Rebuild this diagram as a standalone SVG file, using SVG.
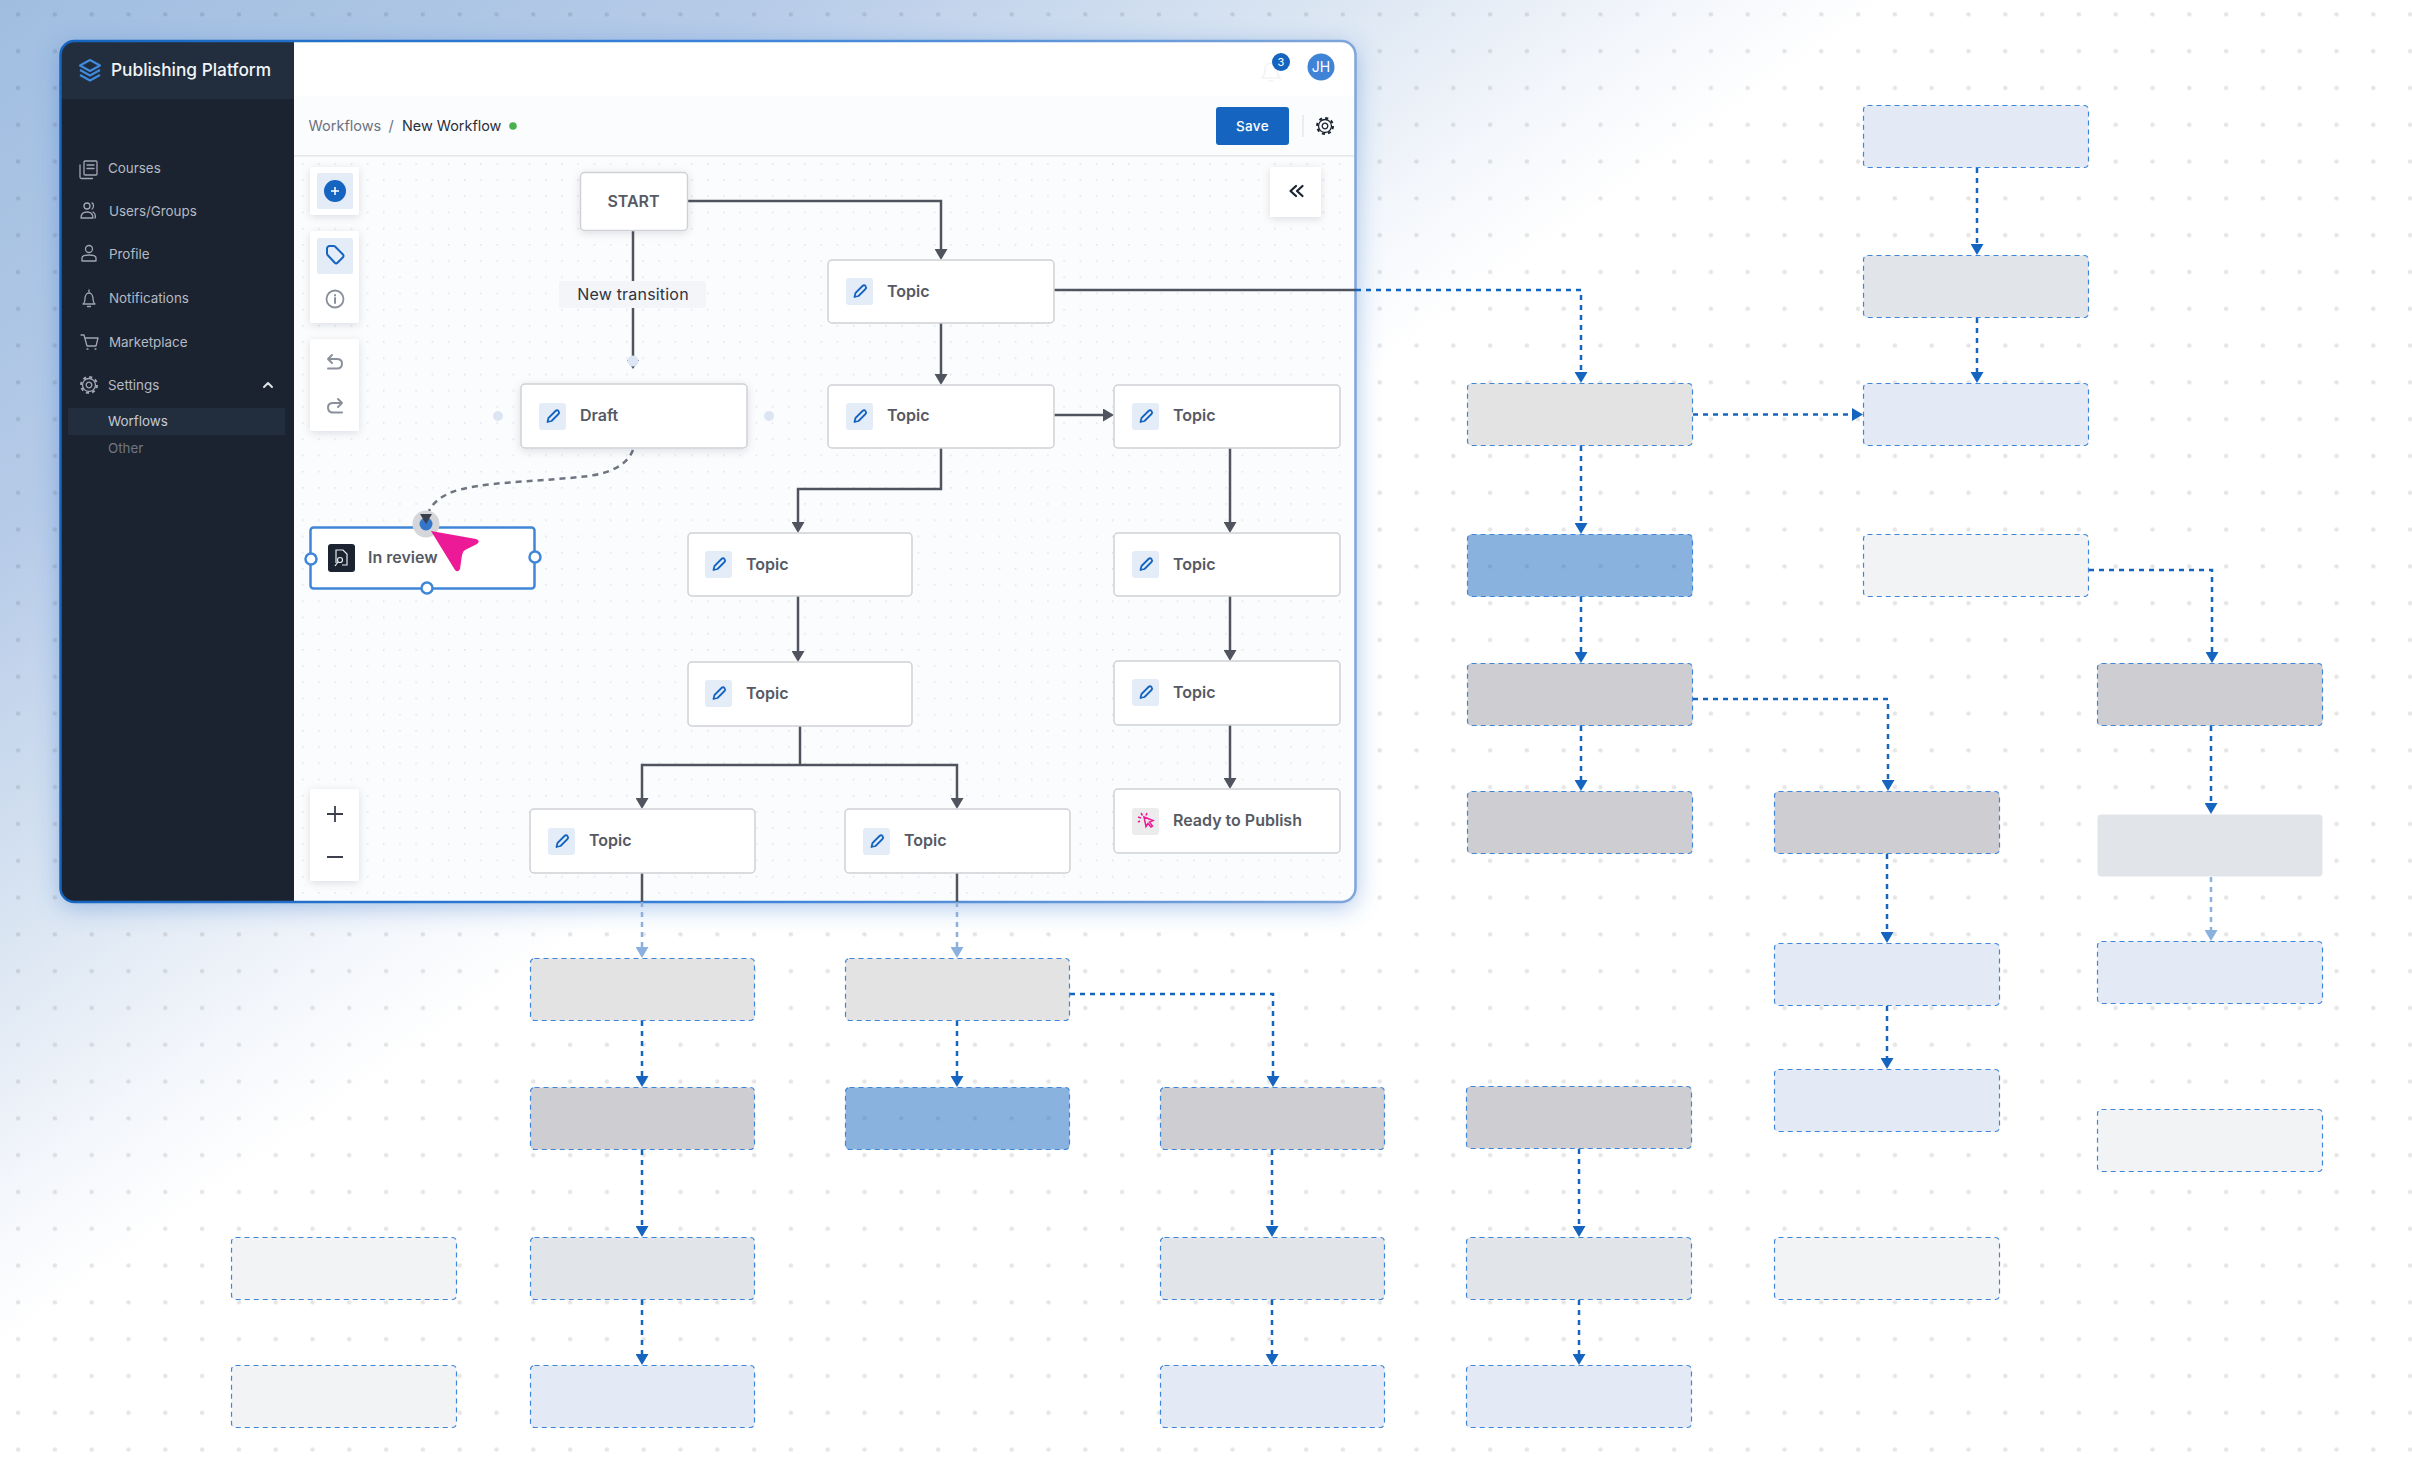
<svg xmlns="http://www.w3.org/2000/svg" xmlns:xlink="http://www.w3.org/1999/xlink" width="2412" height="1468" viewBox="0 0 2412 1468">
<style>
text{font-family:Inter,"Noto Sans","Liberation Sans",sans-serif}
.side{font-size:13.4px;fill:#b4bac4}
.t{font-size:16px;font-weight:600;fill:#565a64}
.card{fill:#fff;stroke:#cfd1d5;stroke-width:1.5}
.tool{fill:#fff;filter:url(#soft)}
.ic{fill:none;stroke:#a0a7b2;stroke-width:1.3;stroke-linecap:round;stroke-linejoin:round}
.tic{fill:none;stroke:#8a909b;stroke-width:2;stroke-linecap:round;stroke-linejoin:round}
.solid{fill:none;stroke:#50545e;stroke-width:2.5;marker-end:url(#ad)}
.plain{fill:none;stroke:#50545e;stroke-width:2.5}
.dash{fill:none;stroke:#1565c0;stroke-width:2.5;stroke-dasharray:5 5;marker-end:url(#ab)}
.pale{fill:none;stroke:#8ab0dd;stroke-width:2.5;stroke-dasharray:5 5;marker-end:url(#ap)}
.g{stroke:#3f86d8;stroke-width:1.2;stroke-dasharray:5 4}
.lb{fill:#e3eaf6}.gr{fill:#e1e4e8}.ll{fill:#e3e3e3}.bl{fill:#1565c0;fill-opacity:.5}.dk{fill:#cdcdd2}.wh{fill:#f1f3f5}
.h{fill:#fff;stroke:#3f86d8;stroke-width:2.5}
</style>
<defs>
<linearGradient id="bg" gradientUnits="userSpaceOnUse" x1="0" y1="0" x2="638" y2="897">
<stop offset="0" stop-color="#a0bde0"/><stop offset=".4" stop-color="#b6cbe8"/><stop offset=".72" stop-color="#dde7f3"/><stop offset=".88" stop-color="#f3f6fb"/><stop offset="1" stop-color="#fff"/>
</linearGradient>
<linearGradient id="edge" gradientUnits="userSpaceOnUse" x1="60" y1="0" x2="1356" y2="0">
<stop offset="0" stop-color="#1565c0"/><stop offset=".5" stop-color="#3a82d8"/><stop offset="1" stop-color="#7fa6da"/>
</linearGradient>
<pattern id="bgdots" patternUnits="userSpaceOnUse" width="36.8" height="36.8"><circle cx="18.1" cy="14.3" r="2.2" fill="#000" fill-opacity=".1"/></pattern>
<pattern id="cdots" patternUnits="userSpaceOnUse" x="302" y="163" width="16.2" height="16.2"><circle cx="0.8" cy="0.8" r=".8" fill="#dadde3"/></pattern>
<filter id="win" x="-10%" y="-10%" width="120%" height="120%"><feDropShadow dx="0" dy="5" stdDeviation="12" flood-color="#3f7fd0" flood-opacity=".45"/></filter>
<filter id="soft" x="-30%" y="-30%" width="160%" height="160%"><feDropShadow dx="0" dy="2" stdDeviation="4" flood-color="#1b2330" flood-opacity=".12"/></filter>
<clipPath id="wc"><rect x="60" y="41" width="1296" height="861" rx="14"/></clipPath>
<marker id="ad" markerUnits="userSpaceOnUse" markerWidth="12" markerHeight="13" viewBox="0 0 11 13" refX="5" refY="6.5" orient="auto"><path d="M0 0L11 6.500L0 13z" fill="#50545e"/></marker>
<marker id="ab" markerUnits="userSpaceOnUse" markerWidth="12" markerHeight="13" viewBox="0 0 11 13" refX="5" refY="6.5" orient="auto"><path d="M0 0L11 6.500L0 13z" fill="#1565c0"/></marker>
<marker id="ap" markerUnits="userSpaceOnUse" markerWidth="12" markerHeight="13" viewBox="0 0 11 13" refX="5" refY="6.5" orient="auto"><path d="M0 0L11 6.500L0 13z" fill="#8ab0dd"/></marker>
<g id="pen"><rect width="27" height="27" rx="3" fill="#e4ecf7"/><path d="M8.500 19l1-4 7-7c1-1 2.200-1 3 0s.8 2 0 3l-7 7z" fill="none" stroke="#1565c0" stroke-width="1.800" stroke-linejoin="round"/></g>
<g id="gear"><circle r="6.500" fill="none" stroke-width="1.300"/><circle r="8" fill="none" stroke-width="2" stroke-dasharray="3.100 3.180"/><circle r="2.800" fill="none" stroke-width="1.300"/></g>
</defs>
<rect id="background" width="2412" height="1468" fill="url(#bg)"/>
<rect width="2412" height="1468" fill="url(#bgdots)"/>

<g id="window">
<rect x="60" y="41" width="1296" height="861" rx="14" fill="#fff" filter="url(#win)"/>
<g clip-path="url(#wc)">
<rect x="294" y="96" width="1062" height="60" fill="#fbfcfe"/>
<rect x="294" y="156" width="1062" height="746" fill="#fbfcfe"/>
<rect x="294" y="157" width="1062" height="745" fill="url(#cdots)"/>
<rect x="294" y="155" width="1062" height="1.500" fill="#e4e6ea"/>
<rect x="60" y="41" width="234" height="861" fill="#1b2330"/>
<rect x="60" y="41" width="234" height="58" fill="#222e3e"/>
<rect x="68" y="408" width="217" height="27" fill="#222e3e"/>
</g>
<rect x="60.500" y="41" width="1295" height="861" rx="14" fill="none" stroke="url(#edge)" stroke-width="2.500"/>
</g>

<g id="sidebar">
<g fill="none" stroke="#3f8be0" stroke-width="2" stroke-linejoin="round"><path d="M90 60l10 5.500-10 5.500-10-5.500z"/><path d="M80 70l10 5.500 10-5.500"/><path d="M80 75l10 5.500 10-5.500"/></g>
<text x="111" y="76" font-size="17.3" font-weight="500" fill="#f2f4f7">Publishing Platform</text>
<g class="ic"><rect x="84" y="161" width="13" height="14" rx="1"/><path d="M87 165h7M87 168.500h7M80 165v12c0 1 .5 1.500 1.500 1.500h11"/></g>
<text x="108" y="173" class="side">Courses</text>
<g class="ic"><circle cx="87" cy="206" r="3"/><path d="M81 218c0-4 2.500-6 6-6s6 2 6 6zM92 203c2 .5 2 5 0 6M95 218c1-2 0-5-2-6"/></g>
<text x="109" y="216" class="side">Users/Groups</text>
<g class="ic"><circle cx="89" cy="249" r="3.500"/><path d="M82 261v-3c0-2 2-3 7-3s7 1 7 3v3z"/></g>
<text x="109" y="259" class="side">Profile</text>
<g class="ic"><path d="M83 304h12c-1.500-1-2-2-2-5 0-3-1.500-6-4-6s-4 3-4 6c0 3-.5 4-2 5zM87.500 306.500h3M89 290v2"/></g>
<text x="109" y="303" class="side">Notifications</text>
<g class="ic"><path d="M81 335h3l3 11h9l2-8H85M87 349h1M95 349h1"/></g>
<text x="109" y="347" class="side">Marketplace</text>
<use xlink:href="#gear" href="#gear" x="89" y="385" stroke="#a0a7b2"/>
<text x="108" y="390" class="side">Settings</text>
<path d="M264 387l4-4 4 4" fill="none" stroke="#dfe3e8" stroke-width="2" stroke-linecap="round" stroke-linejoin="round"/>
<text x="108" y="426" font-size="13.400" fill="#c4cad3">Worflows</text>
<text x="108" y="453" font-size="13.400" fill="#6f7784">Other</text>
</g>

<g id="header">
<path d="M1262 78h18c-2-2-3-4-3-8 0-4-2-7-6-7s-6 3-6 7c0 4-1 6-3 8zM1268 81h6" fill="none" stroke="#f1f3f5" stroke-width="1.500"/>
<circle cx="1281" cy="62" r="9" fill="#1565c0"/>
<text x="1281" y="66" font-size="11" fill="#fff" text-anchor="middle">3</text>
<circle cx="1321" cy="67" r="13.500" fill="#3f83d6"/>
<text x="1321" y="72" font-size="14" fill="#fff" text-anchor="middle">JH</text>
<text x="308.500" y="131" font-size="14.500" fill="#6b7280">Workflows</text>
<text x="391" y="131" font-size="14.500" fill="#6b7280" text-anchor="middle">/</text>
<text x="402" y="131" font-size="14.400" fill="#2b303b">New Workflow</text>
<circle cx="513" cy="126" r="3.800" fill="#4caf50"/>
<rect x="1216" y="107" width="73" height="38" rx="3" fill="#1565c0"/>
<text x="1252.500" y="131" font-size="13.500" font-weight="500" fill="#fff" text-anchor="middle" letter-spacing=".4">Save</text>
<rect x="1302" y="115" width="2" height="22" fill="#eaecf0"/>
<use xlink:href="#gear" href="#gear" x="1325" y="126" stroke="#1b2330"/>
</g>

<g id="toolbar">
<rect class="tool" x="310" y="167" width="49" height="48" rx="2"/>
<rect x="317" y="173" width="36" height="36" rx="2" fill="#e4ecf7"/>
<circle cx="335" cy="191" r="11" fill="#1565c0"/>
<path d="M331 191h8M335 187v8" stroke="#fff" stroke-width="1.500"/>
<rect class="tool" x="310" y="231" width="49" height="92" rx="2"/>
<rect x="317" y="238" width="36" height="36" rx="2" fill="#e4ecf7"/>
<path d="M327 248.500c0-1 1-2.500 2.500-2.500h4c1 0 1.500.3 2 1l7.500 7.500c.7.7.7 2 0 2.700l-5.500 5.500c-.7.7-2 .7-2.700 0l-7-7.500c-.5-.5-.8-1-.8-2z" fill="none" stroke="#1565c0" stroke-width="2" stroke-linejoin="round"/>
<circle cx="335" cy="299" r="8.500" fill="none" stroke="#8a909b" stroke-width="1.800"/>
<path d="M335 298v5M335 295v.5" stroke="#8a909b" stroke-width="2" stroke-linecap="round"/>
<rect class="tool" x="310" y="339" width="49" height="92" rx="2"/>
<path class="tic" d="M332 355l-4 4 4 4M328 359h9c3.500 0 5 2 5 4.500s-1.500 5-5 5h-9" />
<path class="tic" d="M338 399l4 4-4 4M342 403h-9c-3.500 0-5 2-5 4.500s1.500 5 5 5h9"/>
<rect class="tool" x="310" y="789" width="49" height="92" rx="2"/>
<path d="M327 814h16M335 806v16M327 857h16" stroke="#3a3f4a" stroke-width="1.800"/>
<rect class="tool" x="1270" y="167" width="51" height="50"/>
<path d="M1296 186l-5.500 5 5.500 5M1302.500 186l-5.500 5 5.500 5" fill="none" stroke="#1b2330" stroke-width="2.200" stroke-linecap="round" stroke-linejoin="round"/>
</g>

<g id="connectors">
<path class="solid" d="M687 201H941V254"/>
<path class="plain" d="M633 230V281M633 308V362"/>
<path class="plain" d="M633 450C625 470 600 475 580 477C530 482 480 482 452 492C440 497 433 503 429 511" style="stroke:#6e7480;stroke-dasharray:6 5"/>
<path class="plain" d="M1054 290H1356"/>
<path class="dash" d="M1356 290H1581V377"/>
<path class="solid" d="M941 323V379"/>
<path class="solid" d="M1054 415H1108"/>
<path class="solid" d="M941 448V489H798V527"/>
<path class="solid" d="M798 596V656"/>
<path class="plain" d="M800 726V765"/>
<path class="solid" d="M800 765H642V803"/>
<path class="solid" d="M800 765H957V803"/>
<path class="solid" d="M1230 448V527"/>
<path class="solid" d="M1230 596V655"/>
<path class="solid" d="M1230 725V783"/>
<path class="plain" d="M642 873V902M957 873V902"/>
<path class="pale" d="M642 902V952"/>
<path class="pale" d="M957 902V952"/>
<path class="dash" d="M1977 168V249"/>
<path class="dash" d="M1977 318V377"/>
<path class="dash" d="M1693 414.500H1857"/>
<path class="dash" d="M1581 446V528"/>
<path class="dash" d="M1581 597V657"/>
<path class="dash" d="M1581 726V785"/>
<path class="dash" d="M1693 699H1888V785"/>
<path class="dash" d="M1887 854V937"/>
<path class="dash" d="M1887 1006V1063"/>
<path class="dash" d="M2089 570H2212V657"/>
<path class="dash" d="M2211 726V808"/>
<path class="pale" d="M2211 877V935"/>
<path class="dash" d="M642 1021V1081"/>
<path class="dash" d="M957 1021V1081"/>
<path class="dash" d="M1070 994H1273V1081"/>
<path class="dash" d="M642 1150V1231"/>
<path class="dash" d="M642 1300V1359"/>
<path class="dash" d="M1272 1150V1231"/>
<path class="dash" d="M1272 1300V1359"/>
<path class="dash" d="M1579 1149V1231"/>
<path class="dash" d="M1579 1300V1359"/>
</g>

<g id="label-new-transition">
<rect x="559" y="281" width="147" height="27" rx="3" fill="#f3f5f9"/>
<text x="633" y="300" font-size="16" fill="#2f3440" text-anchor="middle" letter-spacing=".2">New transition</text>
<path d="M627 360L633 369L639 360z" fill="#50545e"/>
<circle cx="633" cy="361" r="5.500" fill="#dbe5f3"/>
</g>

<g id="node-start"><rect class="card" x="580.500" y="172.500" width="107" height="58" rx="4" filter="url(#soft)"/><text x="633.500" y="206.500" class="t" text-anchor="middle">START</text></g>
<g id="node-draft"><rect class="card" x="521" y="384" width="226" height="64" rx="4" filter="url(#soft)"/><use xlink:href="#pen" href="#pen" x="539" y="403"/><text x="580" y="421" class="t">Draft</text>
<circle cx="498" cy="416" r="5" fill="#dbe5f3"/><circle cx="769" cy="416" r="5" fill="#dbe5f3"/></g>
<g id="node-topic-a"><rect class="card" x="828" y="260" width="226" height="63" rx="4"/><use xlink:href="#pen" href="#pen" x="846" y="278"/><text x="887" y="297" class="t">Topic</text></g>
<g id="node-topic-b"><rect class="card" x="828" y="385" width="226" height="63" rx="4"/><use xlink:href="#pen" href="#pen" x="846" y="403"/><text x="887" y="421" class="t">Topic</text></g>
<g id="node-topic-c"><rect class="card" x="1114" y="385" width="226" height="63" rx="4"/><use xlink:href="#pen" href="#pen" x="1132" y="403"/><text x="1173" y="421" class="t">Topic</text></g>
<g id="node-topic-d"><rect class="card" x="688" y="533" width="224" height="63" rx="4"/><use xlink:href="#pen" href="#pen" x="705" y="551"/><text x="746" y="570" class="t">Topic</text></g>
<g id="node-topic-e"><rect class="card" x="688" y="662" width="224" height="64" rx="4"/><use xlink:href="#pen" href="#pen" x="705" y="680"/><text x="746" y="699" class="t">Topic</text></g>
<g id="node-topic-f"><rect class="card" x="1114" y="533" width="226" height="63" rx="4"/><use xlink:href="#pen" href="#pen" x="1132" y="551"/><text x="1173" y="570" class="t">Topic</text></g>
<g id="node-topic-g"><rect class="card" x="1114" y="661" width="226" height="64" rx="4"/><use xlink:href="#pen" href="#pen" x="1132" y="679"/><text x="1173" y="698" class="t">Topic</text></g>
<g id="node-ready"><rect class="card" x="1114" y="789" width="226" height="64" rx="4"/><rect x="1132" y="808" width="27" height="27" rx="3" fill="#ececec"/>
<path d="M1144 817l9 3.500-3.500 1.500 3 4-1.500 1-3-3.500-2 3z" fill="none" stroke="#ec1a96" stroke-width="1.500"/><path d="M1138 817l3 1M1141 813l1.500 2.500M1147 813l-1 2.500M1138 822l2-1" stroke="#ec1a96" stroke-width="1.500"/>
<text x="1173" y="826" class="t">Ready to Publish</text></g>
<g id="node-topic-h"><rect class="card" x="530" y="809" width="225" height="64" rx="4"/><use xlink:href="#pen" href="#pen" x="548" y="828"/><text x="589" y="846" class="t">Topic</text></g>
<g id="node-topic-i"><rect class="card" x="845" y="809" width="225" height="64" rx="4"/><use xlink:href="#pen" href="#pen" x="863" y="828"/><text x="904" y="846" class="t">Topic</text></g>

<g id="node-in-review">
<rect x="310.500" y="527.500" width="224" height="61" rx="3" fill="#fff" stroke="#3f86d8" stroke-width="2.500"/>
<rect x="328" y="544" width="27" height="28" rx="3" fill="#1b2330"/>
<path d="M336 563v-13h7l4 4v11h-5" fill="none" stroke="#e8eaee" stroke-width="1.200"/><circle cx="340" cy="560" r="2.500" fill="none" stroke="#e8eaee" stroke-width="1.200"/><path d="M338 562l-3 4" stroke="#e8eaee" stroke-width="1.200"/>
<text x="368" y="563" class="t">In review</text>
<circle class="h" cx="311" cy="559" r="5.500"/><circle class="h" cx="535" cy="557" r="5.500"/><circle class="h" cx="427" cy="588" r="5.500"/>
<circle cx="426" cy="524" r="13.500" fill="#d5d6d9"/><circle cx="426" cy="524" r="6.500" fill="#3476c8"/>
<path d="M420 514H432L426 524z" fill="#3a3f4a"/>
<path d="M431 531L476 539Q481 541 477 544L465 550Q463 551 462 555L460 569Q458 573 455 570z" fill="#ec1a96"/>
</g>

<g id="ghost-nodes">
<g id="g1"><rect class="g lb" x="1863.500" y="105.500" width="225" height="62" rx="4"/></g>
<g id="g2"><rect class="g gr" x="1863.500" y="255.500" width="225" height="62" rx="4"/></g>
<g id="g3"><rect class="g lb" x="1863.500" y="383.500" width="225" height="62" rx="4"/></g>
<g id="g4"><rect class="g ll" x="1467.500" y="383.500" width="225" height="62" rx="4"/></g>
<g id="g5"><rect class="g bl" x="1467.500" y="534.500" width="225" height="62" rx="4"/></g>
<g id="g6"><rect class="g wh" x="1863.500" y="534.500" width="225" height="62" rx="4"/></g>
<g id="g7"><rect class="g dk" x="1467.500" y="663.500" width="225" height="62" rx="4"/></g>
<g id="g8"><rect class="g dk" x="1467.500" y="791.500" width="225" height="62" rx="4"/></g>
<g id="g9"><rect class="g dk" x="1774.500" y="791.500" width="225" height="62" rx="4"/></g>
<g id="g10"><rect class="g lb" x="1774.500" y="943.500" width="225" height="62" rx="4"/></g>
<g id="g11"><rect class="g lb" x="1774.500" y="1069.500" width="225" height="62" rx="4"/></g>
<g id="g12"><rect class="g dk" x="2097.500" y="663.500" width="225" height="62" rx="4"/></g>
<g id="g13"><rect class="gr" x="2097.500" y="814.500" width="225" height="62" rx="4"/></g>
<g id="g14"><rect class="g lb" x="2097.500" y="941.500" width="225" height="62" rx="4"/></g>
<g id="g15"><rect class="g wh" x="2097.500" y="1109.500" width="225" height="62" rx="4"/></g>
<g id="g16"><rect class="g wh" x="1774.500" y="1237.500" width="225" height="62" rx="4"/></g>
<g id="g17"><rect class="g dk" x="1466.500" y="1086.500" width="225" height="62" rx="4"/></g>
<g id="g18"><rect class="g gr" x="1466.500" y="1237.500" width="225" height="62" rx="4"/></g>
<g id="g19"><rect class="g lb" x="1466.500" y="1365.500" width="225" height="62" rx="4"/></g>
<g id="g20"><rect class="g dk" x="1160.500" y="1087.500" width="224" height="62" rx="4"/></g>
<g id="g21"><rect class="g gr" x="1160.500" y="1237.500" width="224" height="62" rx="4"/></g>
<g id="g22"><rect class="g lb" x="1160.500" y="1365.500" width="224" height="62" rx="4"/></g>
<g id="g23"><rect class="g bl" x="845.500" y="1087.500" width="224" height="62" rx="4"/></g>
<g id="g24"><rect class="g ll" x="845.500" y="958.500" width="224" height="62" rx="4"/></g>
<g id="g25"><rect class="g ll" x="530.500" y="958.500" width="224" height="62" rx="4"/></g>
<g id="g26"><rect class="g dk" x="530.500" y="1087.500" width="224" height="62" rx="4"/></g>
<g id="g27"><rect class="g gr" x="530.500" y="1237.500" width="224" height="62" rx="4"/></g>
<g id="g28"><rect class="g lb" x="530.500" y="1365.500" width="224" height="62" rx="4"/></g>
<g id="g29"><rect class="g wh" x="231.500" y="1237.500" width="225" height="62" rx="4"/></g>
<g id="g30"><rect class="g wh" x="231.500" y="1365.500" width="225" height="62" rx="4"/></g>
</g>
</svg>
